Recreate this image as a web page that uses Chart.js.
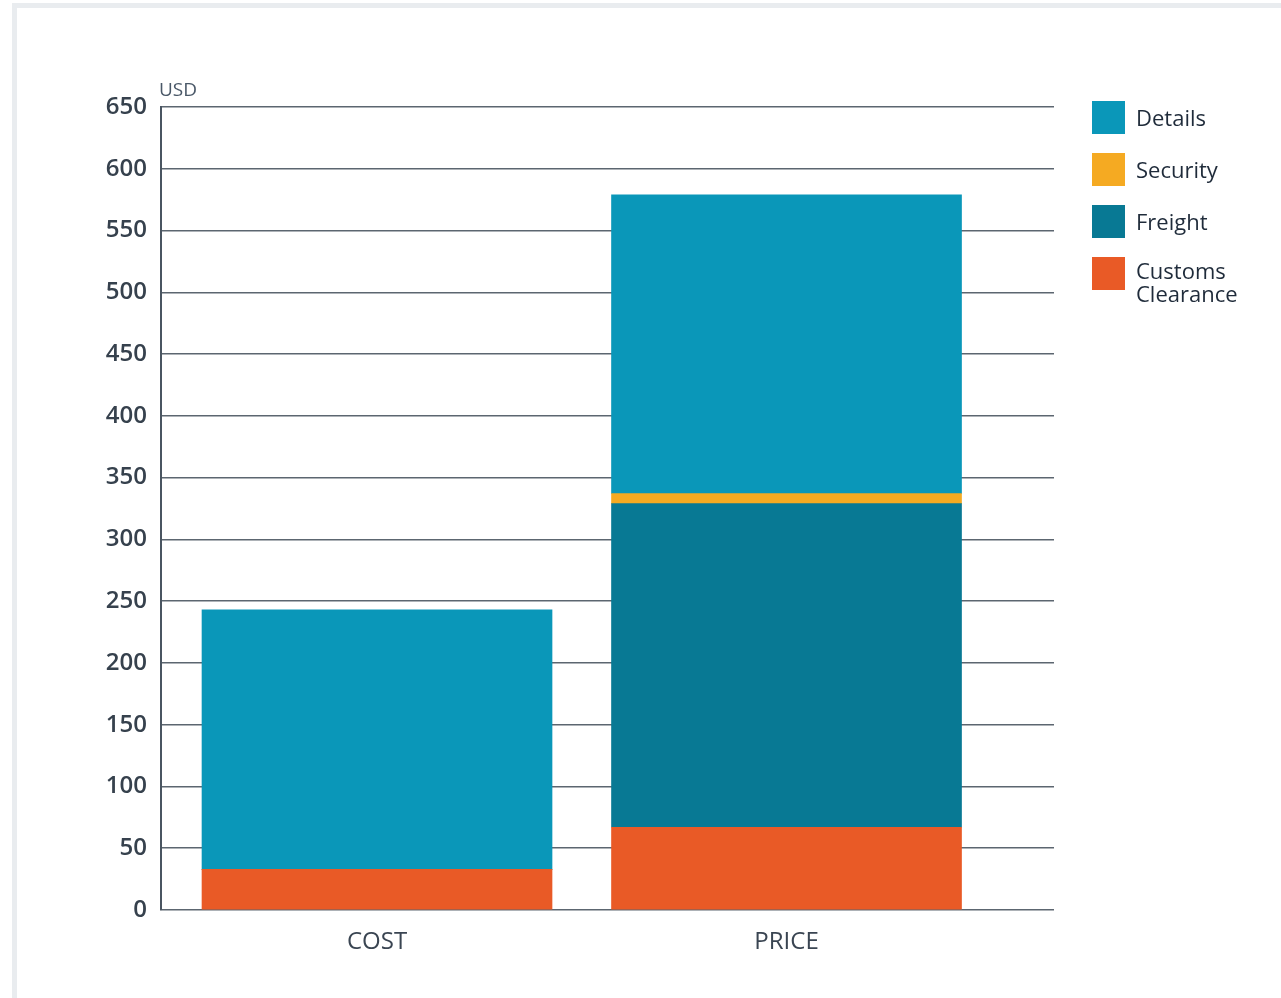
<!DOCTYPE html>
<html>
<head>
<meta charset="utf-8">
<script src="https://cdn.jsdelivr.net/npm/chart.js@4/dist/chart.umd.min.js"></script>
<style>
  html, body { margin: 0; padding: 0; background: #ffffff; }
  body { width: 1281px; height: 998px; position: relative; overflow: hidden; font-family: "Open Sans", sans-serif; }
  #frame { position: absolute; left: 12px; top: 3px; right: -10px; bottom: -10px;
           border-left: 5px solid #e9ecef; border-top: 5px solid #e9ecef; }
  #wrap { position: absolute; left: 0; top: 0; width: 1281px; height: 998px; }
  #legend { position: absolute; left: 1092px; top: 101px; }
  .item { position: absolute; left: 0; display: block; white-space: nowrap; }
  .box { position: absolute; left: 0; top: 0; width: 33px; height: 33px; }
  .lbl { position: absolute; left: 44px; font-size: 22px; line-height: 23px; color: #1f2b3a; }
</style>
</head>
<body>
<div id="frame"></div>
<div id="wrap"><canvas id="c" width="1281" height="998"></canvas></div>
<div id="legend"></div>
<script>
// ---- data ----
const categories = ["COST", "PRICE"];
const customsClearance = [33, 67];
const freight = [0, 262];
const security = [0, 8];
const details = [210, 242];
const yTicks = [0, 50, 100, 150, 200, 250, 300, 350, 400, 450, 500, 550, 600, 650];
const unitLabel = "USD";

const seriesNames = ["Customs Clearance", "Freight", "Security", "Details"];
const seriesColors = ["#e95a26", "#087994", "#f5aa22", "#0a97b9"];
const seriesValues = [customsClearance, freight, security, details];

const datasets = seriesNames.map((name, k) => ({
  label: name,
  data: categories.map((c, i) => ({ x: i, y: seriesValues[k][i] })),
  backgroundColor: seriesColors[k],
  borderWidth: 0,
  barThickness: 350
}));

const usdPlugin = {
  id: 'usd',
  afterDraw(chart) {
    const ctx = chart.ctx;
    const y = chart.scales.y;
    ctx.save();
    ctx.font = '19px "Open Sans"';
    ctx.fillStyle = '#4a5868';
    ctx.textAlign = 'left';
    ctx.textBaseline = 'alphabetic';
    ctx.fillText(unitLabel, y.right - 2, y.top - 11);
    ctx.restore();
  }
};

new Chart(document.getElementById('c'), {
  type: 'bar',
  data: { datasets },
  plugins: [usdPlugin],
  options: {
    responsive: false,
    animation: false,
    layout: { padding: { left: 0, right: 227, top: 107, bottom: 0 } },
    plugins: { legend: { display: false }, tooltip: { enabled: false } },
    scales: {
      x: {
        type: 'linear',
        stacked: true,
        offset: false,
        min: -0.5275,
        max: 1.6532,
        afterBuildTicks(axis) { axis.ticks = categories.map((c, i) => ({ value: i })); },
        afterFit(axis) { axis.height = 88; },
        grid: { display: false, drawTicks: false },
        border: { display: false },
        ticks: {
          padding: 18,
          font: { family: 'Open Sans', size: 24 },
          color: '#3a4552',
          callback: (v) => categories[v]
        }
      },
      y: {
        stacked: true,
        min: 0,
        max: 650,
        afterBuildTicks(axis) { axis.ticks = yTicks.map(v => ({ value: v })); },
        afterFit(axis) { axis.width = 161; },
        grid: { color: '#5c6670', lineWidth: 1.5, drawTicks: false },
        border: { display: true, color: '#4a5561', width: 2 },
        ticks: {
          padding: 14,
          font: { family: 'Open Sans', size: 24, weight: '600' },
          color: '#36414d'
        }
      }
    }
  }
});

// HTML legend (reverse stacking order, top = Details)
const legend = document.getElementById('legend');
const order = [3, 2, 1, 0];
order.forEach((k, row) => {
  const item = document.createElement('div');
  item.className = 'item';
  item.style.top = (row * 52) + 'px';
  const box = document.createElement('div');
  box.className = 'box';
  box.style.background = seriesColors[k];
  const lbl = document.createElement('div');
  lbl.className = 'lbl';
  const words = seriesNames[k].split(' ');
  if (words.length > 1) {
    lbl.innerHTML = words.join('<br>');
    lbl.style.top = '2px';
  } else {
    lbl.textContent = seriesNames[k];
    lbl.style.top = '5px';
  }
  item.appendChild(box);
  item.appendChild(lbl);
  legend.appendChild(item);
});
</script>
</body>
</html>
